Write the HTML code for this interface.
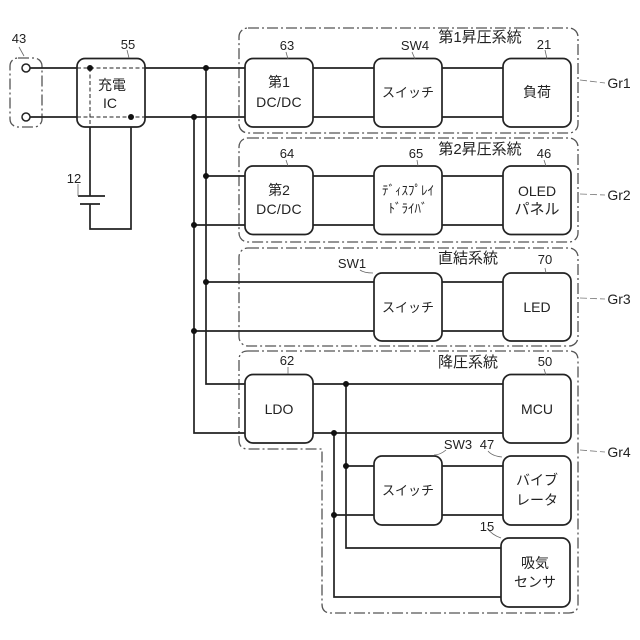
<!DOCTYPE html>
<html><head><meta charset="utf-8">
<style>
html,body{margin:0;padding:0;background:#fff}
svg{display:block}
text{font-family:"Liberation Sans","Noto Sans CJK JP",sans-serif;fill:#222;font-size:14px;text-anchor:middle}
.w{fill:none;stroke:#222;stroke-width:1.7}
.b{fill:#fff;stroke:#222;stroke-width:1.7}
.d{fill:none;stroke:#555;stroke-width:1.3;stroke-dasharray:11 3 2 3}
.i{fill:none;stroke:#222;stroke-width:1;stroke-dasharray:4 2.5}
.l{fill:none;stroke:#666;stroke-width:.8}
.g{fill:none;stroke:#777;stroke-width:.8;stroke-dasharray:7 3}
.n{font-size:13px}
.t{font-size:15px}
.s{font-size:13px;letter-spacing:0}
</style></head><body>
<svg width="640" height="640" viewBox="0 0 640 640" xmlns="http://www.w3.org/2000/svg">
<!-- groups -->
<rect class="d" x="10" y="58" width="32" height="69" rx="8"/>
<rect class="d" x="239" y="28" width="339" height="105" rx="9"/>
<rect class="d" x="239" y="138" width="339" height="104" rx="9"/>
<rect class="d" x="239" y="248" width="339" height="98" rx="9"/>
<path class="d" d="M248 351H569Q578 351 578 360V604Q578 613 569 613H331Q322 613 322 604V449H248Q239 449 239 440V360Q239 351 248 351Z"/>
<!-- wires -->
<path class="w" d="M30 68H77M145 68H245M30 117H77M145 117H245"/>
<path class="w" d="M206 68V384H245M194 117V433H245"/>
<path class="w" d="M313 68H374M442 68H503M313 117H374M442 117H503"/>
<path class="w" d="M206 176H245M194 225H245M313 176H374M442 176H503M313 225H374M442 225H503"/>
<path class="w" d="M206 282H374M194 331H374M442 282H503M442 331H503"/>
<path class="w" d="M313 384H503M313 433H503"/>
<path class="w" d="M346 384V548H502M334 433V597H502"/>
<path class="w" d="M346 466H374M334 515H374M442 466H503M442 515H503"/>
<path class="w" d="M90 127V196M90 204V229H131V127"/>
<path class="w" d="M78 196H105M80 204H100"/>
<!-- boxes -->
<rect class="b" x="77" y="58.5" width="68" height="68.5" rx="8"/>
<rect class="b" x="245" y="58.5" width="68" height="68.5" rx="8"/>
<rect class="b" x="374" y="58.5" width="68" height="68.5" rx="8"/>
<rect class="b" x="503" y="58.5" width="68" height="68.5" rx="8"/>
<rect class="b" x="245" y="166" width="68" height="68.5" rx="8"/>
<rect class="b" x="374" y="166" width="68" height="68.5" rx="8"/>
<rect class="b" x="503" y="166" width="68" height="68.5" rx="8"/>
<rect class="b" x="374" y="273" width="68" height="68" rx="8"/>
<rect class="b" x="503" y="273" width="68" height="68" rx="8"/>
<rect class="b" x="245" y="374.5" width="68" height="68.5" rx="8"/>
<rect class="b" x="503" y="374.5" width="68" height="68.5" rx="8"/>
<rect class="b" x="374" y="456" width="68" height="69" rx="8"/>
<rect class="b" x="503" y="456" width="68" height="69" rx="8"/>
<rect class="b" x="501" y="538" width="69" height="69" rx="8"/>
<!-- IC inner -->
<path class="i" d="M77 68H145M77 117H145M90 68V127"/>
<!-- terminals -->
<circle cx="26" cy="68" r="4" fill="#fff" stroke="#222" stroke-width="1.5"/>
<circle cx="26" cy="117" r="4" fill="#fff" stroke="#222" stroke-width="1.5"/>
<!-- dots -->
<g fill="#111">
<circle cx="90" cy="68" r="3"/><circle cx="131" cy="117" r="3"/>
<circle cx="206" cy="68" r="3"/><circle cx="194" cy="117" r="3"/>
<circle cx="206" cy="176" r="3"/><circle cx="194" cy="225" r="3"/>
<circle cx="206" cy="282" r="3"/><circle cx="194" cy="331" r="3"/>
<circle cx="346" cy="384" r="3"/><circle cx="334" cy="433" r="3"/>
<circle cx="346" cy="466" r="3"/><circle cx="334" cy="515" r="3"/>
</g>
<!-- leaders -->
<path class="l" d="M19 47L24 56M127 50L129 58M78 184V196M286 52L288 59M412 52L415 59M545 50L547 59M286 160L288 166M417 160L418 166M544 160L546 166M360 270Q364 273 373 273M545 268L546 273M288 367V374M544 369L546 375"/>
<path class="l" d="M446 450Q440 455 434 455M488 451Q492 456 502 457M487 528Q492 535 501 538"/>
<path class="g" d="M580 80L605 83M580 194L605 195M580 298L605 299M580 450L605 452"/>
<!-- labels -->
<text class="n" x="19" y="43">43</text>
<text class="n" x="128" y="49">55</text>
<text class="n" x="74" y="183">12</text>
<text x="112" y="90">充電</text>
<text x="110" y="108">IC</text>
<text class="n" x="287" y="50">63</text>
<text class="n" x="415" y="50">SW4</text>
<text class="n" x="544" y="49">21</text>
<text class="t" x="480" y="42">第1昇圧系統</text>
<text x="279" y="87">第1</text>
<text x="279" y="107" style="letter-spacing:.3px">DC/DC</text>
<text class="s" x="408" y="97">スイッチ</text>
<text x="537" y="97">負荷</text>
<text class="n" x="287" y="158">64</text>
<text class="n" x="416" y="158">65</text>
<text class="n" x="544" y="158">46</text>
<text class="t" x="480" y="154">第2昇圧系統</text>
<text x="279" y="195">第2</text>
<text x="279" y="214" style="letter-spacing:.3px">DC/DC</text>
<text x="408" y="195" style="font-size:13px">ﾃﾞｨｽﾌﾟﾚｲ</text>
<text x="408" y="213" style="font-size:13px">ﾄﾞﾗｲﾊﾞ</text>
<text x="537" y="196">OLED</text>
<text class="t" x="537" y="214">パネル</text>
<text class="n" x="352" y="268">SW1</text>
<text class="t" x="468" y="263">直結系統</text>
<text class="n" x="545" y="264">70</text>
<text class="s" x="408" y="312">スイッチ</text>
<text x="537" y="312">LED</text>
<text class="n" x="287" y="365">62</text>
<text class="t" x="468" y="367">降圧系統</text>
<text class="n" x="545" y="366">50</text>
<text x="279" y="414">LDO</text>
<text x="537" y="414">MCU</text>
<text class="n" x="458" y="449">SW3</text>
<text class="n" x="487" y="449">47</text>
<text class="n" x="487" y="531">15</text>
<text class="s" x="408" y="495">スイッチ</text>
<text x="537" y="485">バイブ</text>
<text x="537" y="505">レータ</text>
<text x="535" y="568">吸気</text>
<text x="535" y="587">センサ</text>
<text x="619" y="88">Gr1</text>
<text x="619" y="200">Gr2</text>
<text x="619" y="304">Gr3</text>
<text x="619" y="457">Gr4</text>
</svg>
</body></html>
